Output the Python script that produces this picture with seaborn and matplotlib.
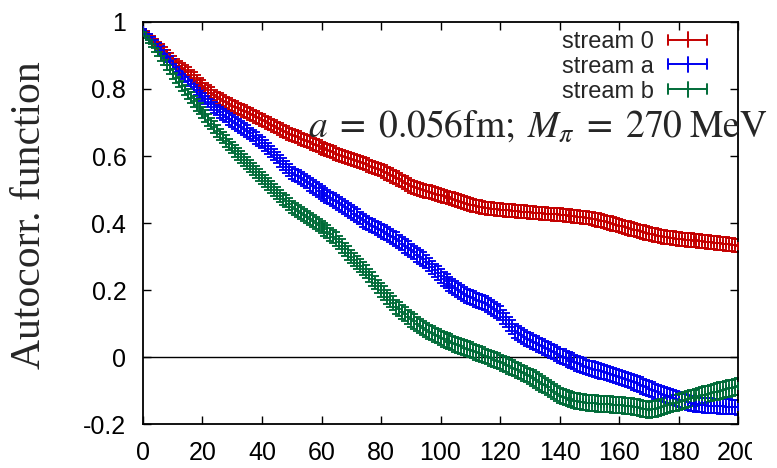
import numpy as np
import pandas as pd
import matplotlib
matplotlib.use("Agg")
import matplotlib.pyplot as plt
import seaborn as sns
from matplotlib.lines import Line2D
from matplotlib.legend_handler import HandlerBase
from matplotlib.transforms import Bbox, TransformedBbox

# ---------------- data ----------------
lags = list(range(0, 201))

stream0 = [
    0.975, 0.966, 0.957, 0.948, 0.939, 0.930, 0.921, 0.912, 0.903, 0.894, 0.885,
    0.877, 0.870, 0.863, 0.857, 0.850, 0.842, 0.834, 0.826, 0.818, 0.810,
    0.803, 0.796, 0.789, 0.782, 0.775, 0.770, 0.765, 0.760, 0.755, 0.750,
    0.746, 0.742, 0.738, 0.734, 0.730, 0.725, 0.721, 0.716, 0.712, 0.707,
    0.703, 0.698, 0.694, 0.689, 0.685, 0.681, 0.676, 0.672, 0.667, 0.663,
    0.659, 0.656, 0.652, 0.649, 0.645, 0.641, 0.637, 0.633, 0.629, 0.625,
    0.621, 0.618, 0.614, 0.611, 0.607, 0.604, 0.601, 0.598, 0.595, 0.592,
    0.589, 0.585, 0.582, 0.578, 0.575, 0.571, 0.568, 0.564, 0.561, 0.557,
    0.553, 0.548, 0.544, 0.539, 0.535, 0.530, 0.525, 0.520, 0.515, 0.510,
    0.507, 0.504, 0.501, 0.498, 0.495, 0.493, 0.490, 0.488, 0.485, 0.483,
    0.480, 0.478, 0.475, 0.473, 0.470, 0.467, 0.464, 0.461, 0.458, 0.455,
    0.453, 0.451, 0.449, 0.447, 0.445, 0.444, 0.443, 0.442, 0.441, 0.440,
    0.439, 0.438, 0.438, 0.437, 0.436, 0.435, 0.434, 0.434, 0.433, 0.432,
    0.431, 0.430, 0.430, 0.429, 0.428, 0.427, 0.427, 0.426, 0.426, 0.425,
    0.424, 0.423, 0.422, 0.421, 0.420, 0.419, 0.418, 0.417, 0.416, 0.415,
    0.413, 0.411, 0.409, 0.407, 0.405, 0.402, 0.400, 0.397, 0.395, 0.392,
    0.390, 0.387, 0.385, 0.382, 0.380, 0.378, 0.375, 0.373, 0.370, 0.368,
    0.366, 0.364, 0.362, 0.360, 0.358, 0.357, 0.356, 0.355, 0.353, 0.352,
    0.351, 0.350, 0.349, 0.349, 0.348, 0.347, 0.346, 0.345, 0.344, 0.343,
    0.342, 0.341, 0.340, 0.339, 0.338, 0.337, 0.336, 0.335, 0.333, 0.332,
]

stream_a = [
    0.975, 0.965, 0.955, 0.945, 0.935, 0.925, 0.915, 0.905, 0.895, 0.885, 0.875,
    0.865, 0.855, 0.845, 0.835, 0.825, 0.816, 0.807, 0.798, 0.789, 0.780,
    0.771, 0.762, 0.754, 0.745, 0.737, 0.730, 0.723, 0.717, 0.711, 0.705,
    0.699, 0.693, 0.687, 0.681, 0.675, 0.668, 0.661, 0.654, 0.647, 0.640,
    0.631, 0.622, 0.613, 0.604, 0.595, 0.586, 0.577, 0.568, 0.559, 0.550,
    0.544, 0.539, 0.533, 0.528, 0.522, 0.516, 0.509, 0.503, 0.496, 0.490,
    0.485, 0.480, 0.475, 0.470, 0.465, 0.459, 0.453, 0.447, 0.441, 0.435,
    0.428, 0.422, 0.415, 0.408, 0.402, 0.397, 0.392, 0.388, 0.383, 0.378,
    0.373, 0.368, 0.362, 0.357, 0.352, 0.345, 0.338, 0.331, 0.325, 0.318,
    0.312, 0.305, 0.298, 0.292, 0.285, 0.277, 0.268, 0.259, 0.251, 0.242,
    0.234, 0.226, 0.219, 0.212, 0.205, 0.199, 0.193, 0.188, 0.183, 0.178,
    0.175, 0.171, 0.168, 0.164, 0.160, 0.155, 0.150, 0.144, 0.137, 0.130,
    0.120, 0.110, 0.099, 0.089, 0.078, 0.072, 0.066, 0.061, 0.055, 0.050,
    0.046, 0.041, 0.037, 0.032, 0.028, 0.023, 0.018, 0.014, 0.009, 0.004,
    0.001, -0.003, -0.007, -0.011, -0.015, -0.019, -0.022, -0.026, -0.030, -0.033,
    -0.035, -0.038, -0.040, -0.043, -0.045, -0.048, -0.051, -0.054, -0.057, -0.060,
    -0.063, -0.066, -0.069, -0.072, -0.075, -0.079, -0.083, -0.087, -0.091, -0.095,
    -0.098, -0.102, -0.105, -0.109, -0.112, -0.115, -0.118, -0.121, -0.124, -0.127,
    -0.130, -0.132, -0.135, -0.138, -0.140, -0.141, -0.142, -0.143, -0.144, -0.145,
    -0.145, -0.146, -0.146, -0.147, -0.147, -0.148, -0.148, -0.149, -0.149, -0.150,
]

stream_b = [
    0.970, 0.958, 0.946, 0.934, 0.922, 0.910, 0.898, 0.886, 0.872, 0.858, 0.845,
    0.833, 0.821, 0.809, 0.797, 0.785, 0.774, 0.763, 0.752, 0.741, 0.730,
    0.719, 0.708, 0.697, 0.686, 0.675, 0.665, 0.655, 0.645, 0.635, 0.625,
    0.616, 0.606, 0.597, 0.587, 0.578, 0.569, 0.561, 0.552, 0.544, 0.535,
    0.526, 0.517, 0.508, 0.499, 0.490, 0.482, 0.473, 0.465, 0.456, 0.448,
    0.442, 0.436, 0.430, 0.424, 0.418, 0.412, 0.406, 0.400, 0.394, 0.388,
    0.381, 0.374, 0.366, 0.359, 0.352, 0.342, 0.331, 0.321, 0.310, 0.300,
    0.291, 0.282, 0.273, 0.264, 0.255, 0.244, 0.233, 0.222, 0.211, 0.200,
    0.190, 0.180, 0.170, 0.160, 0.150, 0.142, 0.135, 0.127, 0.120, 0.112,
    0.106, 0.099, 0.093, 0.086, 0.080, 0.075, 0.071, 0.066, 0.062, 0.057,
    0.053, 0.049, 0.046, 0.042, 0.038, 0.035, 0.032, 0.028, 0.025, 0.022,
    0.018, 0.014, 0.011, 0.007, 0.003, 0.000, -0.004, -0.008, -0.011, -0.015,
    -0.019, -0.023, -0.028, -0.032, -0.036, -0.040, -0.045, -0.049, -0.054, -0.058,
    -0.063, -0.069, -0.074, -0.080, -0.085, -0.091, -0.097, -0.103, -0.109, -0.115,
    -0.118, -0.121, -0.124, -0.127, -0.130, -0.131, -0.133, -0.134, -0.136, -0.137,
    -0.138, -0.138, -0.139, -0.139, -0.140, -0.140, -0.141, -0.142, -0.142, -0.143,
    -0.144, -0.145, -0.146, -0.147, -0.148, -0.150, -0.152, -0.154, -0.156, -0.158,
    -0.156, -0.154, -0.152, -0.149, -0.146, -0.143, -0.141, -0.138, -0.136, -0.133,
    -0.131, -0.128, -0.126, -0.123, -0.121, -0.119, -0.117, -0.114, -0.112, -0.110,
    -0.108, -0.105, -0.103, -0.100, -0.098, -0.096, -0.094, -0.092, -0.090, -0.088,
]

err0 = [
    0.004, 0.006, 0.008, 0.009, 0.010, 0.011, 0.012, 0.012, 0.013, 0.013, 0.014,
    0.014, 0.014, 0.015, 0.015, 0.015, 0.015, 0.016, 0.016, 0.016, 0.016,
    0.016, 0.016, 0.016, 0.016, 0.017, 0.017, 0.017, 0.017, 0.017, 0.017,
    0.017, 0.017, 0.017, 0.017, 0.017, 0.017, 0.017, 0.017, 0.017, 0.017,
    0.017, 0.017, 0.017, 0.017, 0.017, 0.018, 0.018, 0.018, 0.018, 0.018,
    0.018, 0.018, 0.018, 0.018, 0.018, 0.018, 0.018, 0.018, 0.018, 0.018,
    0.018, 0.018, 0.018, 0.018, 0.018, 0.018, 0.018, 0.018, 0.018, 0.018,
    0.018, 0.018, 0.018, 0.018, 0.018, 0.018, 0.018, 0.018, 0.018, 0.018,
    0.019, 0.019, 0.019, 0.019, 0.019, 0.019, 0.019, 0.019, 0.019, 0.019,
    0.019, 0.019, 0.019, 0.019, 0.019, 0.019, 0.019, 0.019, 0.019, 0.019,
    0.019, 0.019, 0.019, 0.019, 0.019, 0.019, 0.019, 0.019, 0.019, 0.019,
    0.019, 0.019, 0.019, 0.019, 0.019, 0.019, 0.019, 0.019, 0.019, 0.019,
    0.019, 0.019, 0.019, 0.019, 0.019, 0.019, 0.019, 0.019, 0.019, 0.019,
    0.019, 0.019, 0.019, 0.019, 0.019, 0.019, 0.019, 0.019, 0.019, 0.019,
    0.019, 0.019, 0.019, 0.019, 0.019, 0.019, 0.019, 0.019, 0.019, 0.019,
    0.020, 0.020, 0.020, 0.020, 0.020, 0.020, 0.020, 0.020, 0.020, 0.020,
    0.020, 0.020, 0.020, 0.020, 0.020, 0.020, 0.020, 0.020, 0.020, 0.020,
    0.020, 0.020, 0.020, 0.020, 0.020, 0.020, 0.020, 0.020, 0.020, 0.020,
    0.020, 0.020, 0.020, 0.020, 0.020, 0.020, 0.020, 0.020, 0.020, 0.020,
    0.020, 0.020, 0.020, 0.020, 0.020, 0.020, 0.020, 0.020, 0.020, 0.020,
]

err_a = [
    0.004, 0.006, 0.008, 0.009, 0.010, 0.011, 0.012, 0.012, 0.013, 0.013, 0.014,
    0.014, 0.014, 0.015, 0.015, 0.015, 0.015, 0.016, 0.016, 0.016, 0.016,
    0.016, 0.016, 0.016, 0.016, 0.016, 0.017, 0.017, 0.017, 0.017, 0.017,
    0.017, 0.017, 0.017, 0.017, 0.017, 0.017, 0.017, 0.017, 0.017, 0.017,
    0.017, 0.017, 0.017, 0.017, 0.017, 0.018, 0.018, 0.018, 0.018, 0.018,
    0.018, 0.018, 0.018, 0.018, 0.018, 0.019, 0.019, 0.019, 0.019, 0.019,
    0.019, 0.019, 0.019, 0.019, 0.019, 0.019, 0.019, 0.019, 0.019, 0.019,
    0.019, 0.019, 0.019, 0.019, 0.019, 0.019, 0.019, 0.019, 0.019, 0.019,
    0.020, 0.020, 0.020, 0.020, 0.020, 0.020, 0.020, 0.020, 0.020, 0.020,
    0.020, 0.020, 0.020, 0.020, 0.020, 0.020, 0.020, 0.020, 0.020, 0.020,
    0.021, 0.021, 0.021, 0.021, 0.021, 0.021, 0.021, 0.021, 0.021, 0.021,
    0.021, 0.021, 0.021, 0.021, 0.021, 0.021, 0.021, 0.021, 0.021, 0.021,
    0.021, 0.021, 0.021, 0.021, 0.021, 0.021, 0.021, 0.021, 0.021, 0.021,
    0.021, 0.021, 0.021, 0.021, 0.021, 0.021, 0.021, 0.021, 0.021, 0.021,
    0.022, 0.022, 0.022, 0.022, 0.022, 0.022, 0.022, 0.022, 0.022, 0.022,
    0.022, 0.022, 0.022, 0.022, 0.022, 0.022, 0.022, 0.022, 0.022, 0.022,
    0.022, 0.022, 0.022, 0.022, 0.022, 0.022, 0.022, 0.022, 0.022, 0.022,
    0.022, 0.022, 0.022, 0.022, 0.022, 0.022, 0.022, 0.022, 0.022, 0.022,
    0.022, 0.022, 0.022, 0.022, 0.022, 0.022, 0.022, 0.022, 0.022, 0.022,
    0.022, 0.022, 0.022, 0.022, 0.022, 0.022, 0.022, 0.022, 0.022, 0.022,
]

err_b = [
    0.004, 0.006, 0.008, 0.010, 0.011, 0.012, 0.013, 0.013, 0.014, 0.014, 0.015,
    0.015, 0.015, 0.016, 0.016, 0.016, 0.016, 0.017, 0.017, 0.017, 0.017,
    0.017, 0.017, 0.017, 0.017, 0.017, 0.017, 0.017, 0.017, 0.017, 0.017,
    0.018, 0.018, 0.018, 0.018, 0.018, 0.018, 0.018, 0.018, 0.018, 0.018,
    0.018, 0.018, 0.018, 0.018, 0.018, 0.018, 0.018, 0.018, 0.018, 0.018,
    0.019, 0.019, 0.019, 0.019, 0.019, 0.019, 0.019, 0.019, 0.019, 0.019,
    0.020, 0.020, 0.020, 0.020, 0.020, 0.020, 0.020, 0.020, 0.020, 0.020,
    0.020, 0.020, 0.020, 0.020, 0.020, 0.020, 0.020, 0.020, 0.020, 0.020,
    0.021, 0.021, 0.021, 0.021, 0.021, 0.021, 0.021, 0.021, 0.021, 0.021,
    0.021, 0.021, 0.021, 0.021, 0.021, 0.021, 0.021, 0.021, 0.021, 0.021,
    0.022, 0.022, 0.022, 0.022, 0.022, 0.022, 0.022, 0.022, 0.022, 0.022,
    0.022, 0.022, 0.022, 0.022, 0.022, 0.022, 0.022, 0.022, 0.022, 0.022,
    0.022, 0.022, 0.022, 0.022, 0.022, 0.022, 0.022, 0.022, 0.022, 0.022,
    0.023, 0.023, 0.023, 0.023, 0.023, 0.023, 0.023, 0.023, 0.023, 0.023,
    0.023, 0.023, 0.023, 0.023, 0.023, 0.023, 0.023, 0.023, 0.023, 0.023,
    0.024, 0.024, 0.024, 0.024, 0.024, 0.024, 0.024, 0.024, 0.024, 0.024,
    0.024, 0.024, 0.024, 0.024, 0.024, 0.024, 0.024, 0.024, 0.024, 0.024,
    0.024, 0.024, 0.024, 0.024, 0.024, 0.024, 0.024, 0.024, 0.024, 0.024,
    0.024, 0.024, 0.024, 0.024, 0.024, 0.024, 0.024, 0.024, 0.024, 0.024,
    0.024, 0.024, 0.024, 0.024, 0.024, 0.024, 0.024, 0.024, 0.024, 0.024,
]

series_names = ["stream 0", "stream a", "stream b"]
series_values = [stream0, stream_a, stream_b]
series_errors = [err0, err_a, err_b]
series_colors = ["#c40000", "#0000f0", "#006b38"]

x_ticks = [0, 20, 40, 60, 80, 100, 120, 140, 160, 180, 200]
y_ticks = [-0.2, 0, 0.2, 0.4, 0.6, 0.8, 1]
y_label = "Autocorr. function"
annotation = r"$a\;=\;0.056\mathrm{fm};\;M_{\pi}\;=\;270\;\mathrm{MeV}$"

# ---------------- style ----------------
sns.set_style("ticks")
plt.rcParams["font.family"] = ["Liberation Sans", "DejaVu Sans"]
plt.rcParams["mathtext.fontset"] = "stix"

frames = []
for name, vals, errs in zip(series_names, series_values, series_errors):
    frames.append(pd.DataFrame({"lag": lags, "value": vals, "err": errs, "stream": name}))
df = pd.concat(frames, ignore_index=True)

fig = plt.figure(figsize=(7.77, 4.68), dpi=100)
ax = fig.add_axes([0.184, 0.094, 0.766, 0.859])

ax.axhline(0, color="black", lw=1.0, zorder=1)

for name, col in zip(series_names, series_colors):
    sub = df[df["stream"] == name]
    ax.errorbar(sub["lag"], sub["value"], yerr=sub["err"], fmt="none",
                ecolor=col, elinewidth=1.35, capsize=2.8, capthick=1.35, zorder=2)
    sns.scatterplot(data=sub, x="lag", y="value", ax=ax, marker="+", s=40,
                    color=col, linewidth=1.3, legend=False, zorder=3)

ax.set_xlim(0, 200)
ax.set_ylim(-0.2, 1)
ax.set_xticks(x_ticks)
ax.set_yticks(y_ticks)
ax.set_xticklabels([str(t) for t in x_ticks])
ax.set_yticklabels(["%g" % t for t in y_ticks])
ax.set_xlabel("")
ax.set_ylabel(y_label, family="Liberation Serif", fontsize=30)
ax.yaxis.set_label_coords(-0.158, 0.52)

for s in ax.spines.values():
    s.set_visible(True)
    s.set_linewidth(1.3)
    s.set_color("black")
ax.tick_params(direction="in", length=6, width=1.0, top=True, right=True,
               labelsize=18, colors="black")
ax.tick_params(axis="x", pad=12)
ax.tick_params(axis="y", pad=12)

ax.text(0.277, 0.716, annotation, transform=ax.transAxes, fontsize=27,
        ha="left", va="baseline", clip_on=False, zorder=5)


class GnuErrHandler(HandlerBase):
    def create_artists(self, legend, orig_handle, xdescent, ydescent,
                       width, height, fontsize, trans):
        c = orig_handle.get_color()
        y = height / 2 - ydescent
        x0 = -xdescent
        x1 = -xdescent + width
        cap = height * 0.30
        arts = [
            Line2D([x0, x1], [y, y], color=c, lw=1.4),
            Line2D([x0, x0], [y - cap, y + cap], color=c, lw=1.4),
            Line2D([x1, x1], [y - cap, y + cap], color=c, lw=1.4),
            Line2D([(x0 + x1) / 2] * 2, [y - 1.5 * cap, y + 1.5 * cap], color=c, lw=1.4),
        ]
        for a in arts:
            a.set_transform(trans)
        return arts


handles = [Line2D([], [], color=c, label=n) for n, c in zip(series_names, series_colors)]
ax.legend(handles=handles, labels=series_names, handler_map={Line2D: GnuErrHandler()},
          loc="upper right", bbox_to_anchor=(0.948, 0.978), frameon=False,
          markerfirst=False, fontsize=17, handlelength=1.65, handletextpad=0.6,
          labelspacing=0.12, borderpad=0, borderaxespad=0)

fig.canvas.draw()
clip = TransformedBbox(Bbox([[0, 0], [752 / 777, 1]]), fig.transFigure)
lab = ax.xaxis.get_major_ticks()[-1].label1
lab.set_clip_box(clip)
lab.set_clip_on(True)

fig.savefig("out.png", dpi=100)
